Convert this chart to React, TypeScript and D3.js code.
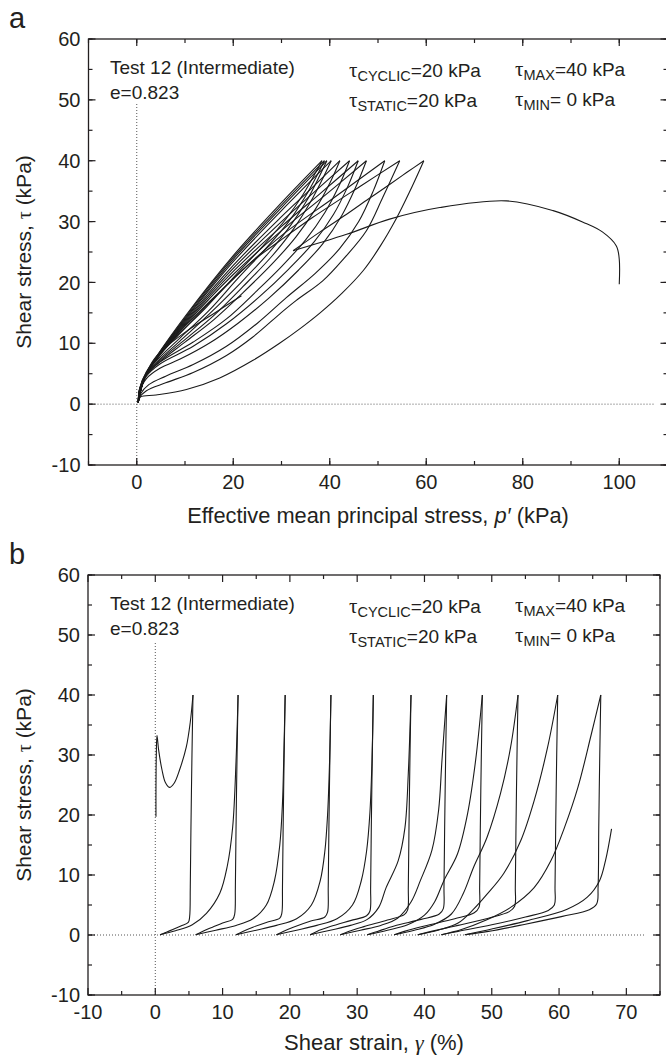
import React from "react";
import * as d3 from "d3";

type Pt = [number, number];

// ---------------- Panel (a): effective mean principal stress p' (kPa) vs shear stress tau (kPa)
const pathAInitial: Pt[] = [[100, 19.7], [100, 23.8], [99.4, 26], [96.5, 28.3], [92.5, 29.9], [86.3, 31.8], [76.6, 33.4], [62.8, 32.3], [52.4, 30.4], [43.5, 27.9], [32.4, 25.2]];

const pathALoading: Pt[][] = [
  [[32.4, 25.2], [38, 28.3], [43.5, 31.2], [48, 33.7], [52.4, 36.1], [56, 38.1], [59.5, 40]],
  [[0.3, 0.3], [1, 2.8], [2, 5], [4.5, 7.8], [10, 12.5], [18, 19], [24, 23.5], [29.6, 26.8], [36.5, 30.7], [46.9, 36.1], [54.5, 40]],
  [[0.3, 0.3], [1, 2.8], [2, 5], [4.5, 7.8], [10, 12.8], [20, 20.6], [30, 27.7], [41, 34], [51.4, 40]],
  [[0.3, 0.3], [1, 2.8], [2, 5], [4.5, 7.9], [10, 13], [20, 21.3], [30, 28.5], [39, 34.3], [47.6, 40]],
  [[0.3, 0.3], [1, 2.8], [2, 5], [4.5, 7.9], [10, 13.2], [20, 21.8], [30, 29.2], [38, 34.6], [45.9, 40]],
  [[0.3, 0.3], [1, 2.8], [2, 5], [4.5, 8], [10, 13.4], [20, 22.3], [30, 30], [37, 35], [44.1, 40]],
  [[0.3, 0.3], [1, 2.8], [2, 5], [4.5, 8], [10, 13.6], [20, 22.8], [30, 30.8], [36, 35.3], [42.1, 40]],
  [[0.3, 0.3], [1, 2.8], [2, 5], [4.5, 8.1], [10, 13.8], [20, 23.4], [30, 31.8], [40.3, 40]],
  [[0.3, 0.3], [1, 2.85], [2, 5.05], [4.5, 8.2], [10, 14], [20, 23.8], [30, 32.3], [39.4, 40]],
  [[0.3, 0.3], [1, 2.85], [2, 5.05], [4.5, 8.2], [10, 14.2], [20, 24.1], [30, 32.7], [38.9, 40]],
  [[0.3, 0.3], [1, 2.9], [2, 5.1], [4.5, 8.3], [10, 14.4], [20, 24.4], [30, 33.1], [38.4, 40]],
  [[0.3, 0.3], [1, 2.9], [2, 5.1], [3.5, 7.3], [5.5, 9], [10, 11.8], [16, 14.9], [21.7, 17.8]],
];

const pathAUnloading: Pt[][] = [
  [[59.5, 40], [56.5, 34.8], [53.8, 30.5], [50.5, 26], [47, 22], [42.5, 18.2], [38, 15], [33.5, 12.2], [29.6, 10], [24.1, 7.2], [17.2, 4.3], [10.3, 2.4], [4, 1.5], [0.8, 1.2], [0.3, 0.3]],
  [[54.5, 40], [51, 34], [47.6, 28.5], [43, 24], [38.6, 20.3], [33, 17], [29.6, 14.8], [24, 11], [18.6, 8], [11.7, 5.2], [6, 3.5], [2, 2.2], [0.5, 1], [0.3, 0.3]],
  [[51.4, 40], [49, 35], [46, 30], [42, 25.5], [37, 21.5], [31, 17.5], [25, 13.3], [18.6, 9.5], [11.7, 6.5], [6, 4.6], [2.5, 3.2], [0.8, 1.7], [0.3, 0.3]],
  [[47.6, 40], [45.3, 35.5], [42.5, 31], [38.5, 26.3], [33.5, 22], [27.5, 17.5], [21, 13.3], [15, 10], [9, 7.4], [4.8, 5.9], [2, 4.2], [0.6, 2], [0.3, 0.3]],
  [[45.9, 40], [43.7, 35.7], [40.8, 31.2], [36.8, 26.7], [31.5, 22.2], [25.5, 17.7], [18.6, 13.2], [11.7, 9.5], [4.8, 6.6], [2, 4.6], [0.6, 2.1], [0.3, 0.3]],
  [[44.1, 40], [42, 36], [39, 31.5], [35, 27], [30, 22.6], [25, 18.7], [18.6, 14], [11.7, 10.2], [4.8, 6.9], [2, 4.8], [0.6, 2.2], [0.3, 0.3]],
  [[42.1, 40], [40, 36.3], [37, 32], [33, 27.5], [28, 23], [22, 18.3], [16, 13.9], [10, 10.2], [4.8, 7], [2, 4.9], [0.6, 2.3], [0.3, 0.3]],
  [[40.3, 40], [38.5, 37], [36, 33.2], [32.5, 28.8], [28, 24.3], [22, 19.3], [16, 14.6], [10, 10.6], [4.8, 7.2], [2, 5], [0.6, 2.4], [0.3, 0.3]],
  [[39.4, 40], [37.7, 37.2], [35.5, 33.8], [32, 29.5], [27.5, 25], [21.5, 19.9], [15, 14.8], [9, 10.4], [4.5, 7.2], [2, 5.1], [0.6, 2.5], [0.3, 0.3]],
  [[38.9, 40], [37.3, 37.5], [35, 34.2], [31.5, 30], [27, 25.8], [21, 20.7], [15, 15.4], [9, 10.9], [4.5, 7.5], [2, 5.2], [0.6, 2.5], [0.3, 0.3]],
  [[38.4, 40], [36.9, 37.8], [34.5, 34.5], [31, 30.5], [26.5, 26.3], [20.5, 21.2], [14.5, 16], [8.5, 11.3], [4.3, 7.8], [2, 5.3], [0.6, 2.6], [0.3, 0.3]],
];

// ---------------- Panel (b): shear strain gamma (%) vs shear stress tau (kPa)
const curveBInitial: Pt[] = [[0.1, 19.7], [0.1, 24], [0.15, 30], [0.25, 33.3], [0.5, 30.8], [1, 27.5], [1.5, 25.4], [2.1, 24.6], [2.8, 25.3], [3.6, 27.5], [4.6, 31.3], [5.2, 35.5], [5.6, 40]];

const curveBReloading: Pt[][] = [
  [[0.7, 0.05], [3, 0.7], [5.5, 1.7], [7.6, 3.6], [9.6, 7], [10.7, 11.5], [11.5, 18], [12, 29], [12.3, 40]],
  [[6, 0.05], [9, 0.8], [12, 1.6], [14.5, 2.7], [16.5, 5], [17.7, 9], [18.5, 15], [18.9, 22], [19.1, 30], [19.3, 40]],
  [[12, 0.05], [15, 0.8], [18, 1.6], [21, 2.7], [23.2, 5], [24.5, 9], [25.2, 14], [25.6, 20], [25.9, 29], [26.1, 40]],
  [[18, 0.05], [21, 0.8], [24, 1.6], [27, 2.7], [29.3, 5], [30.6, 9], [31.4, 14], [31.9, 20.5], [32.2, 29], [32.4, 40]],
  [[23, 0.05], [26, 0.8], [29, 1.6], [31.5, 2.6], [33.2, 4.6], [34.3, 7.9], [36.1, 12.4], [37.1, 17.9], [37.6, 27], [38, 40]],
  [[27.5, 0.05], [30.5, 0.8], [33.5, 1.6], [36, 2.8], [38, 5.5], [39.4, 9.1], [41.1, 14.1], [42.1, 20.8], [42.6, 29.1], [43.3, 40]],
  [[31.5, 0.05], [34.5, 0.8], [37.5, 1.7], [40, 3.3], [41.5, 5.5], [42.9, 9.1], [44.9, 13.5], [46.4, 20.2], [47.6, 29.1], [48.6, 40]],
  [[35.5, 0.05], [38.5, 0.8], [41.5, 1.8], [44, 3.5], [45.8, 7], [47.3, 11.3], [49.3, 16.3], [51.3, 23.6], [52.8, 31.3], [53.9, 40]],
  [[39, 0.05], [42, 0.8], [45, 2], [47.3, 4.3], [49.3, 6.8], [51.8, 10.3], [54.3, 15.7], [56.3, 22.4], [58.3, 31.3], [59.8, 40]],
  [[42.5, 0.05], [45.5, 0.9], [49, 2.4], [52.8, 4.6], [56.3, 7.9], [58.8, 12.4], [60.8, 17.9], [62.8, 24.6], [64.8, 33.5], [66.2, 40]],
  [[46, 0.05], [50, 1], [55.3, 2.4], [61.2, 4.3], [64.2, 6.3], [66, 9], [66.9, 12.4], [67.8, 17.7]],
];

const curveBUnloading: Pt[][] = [
  [[5.6, 40], [5.45, 30], [5.3, 18], [5.2, 8], [5.1, 3], [4.9, 2.1], [3.8, 1.5], [2.6, 0.9], [1.5, 0.4], [0.7, 0.05]],
  [[12.3, 40], [12.15, 30], [12, 18], [11.9, 8], [11.8, 3.5], [11.5, 2.6], [10, 2], [8.5, 1.3], [7, 0.6], [6, 0.05]],
  [[19.3, 40], [19.15, 30], [19, 18], [18.9, 8], [18.8, 3.6], [18.5, 2.8], [16.5, 2.1], [14.5, 1.3], [13, 0.6], [12, 0.05]],
  [[26.1, 40], [25.95, 30], [25.8, 18], [25.7, 8], [25.6, 3.8], [25.2, 3], [23, 2.3], [20.5, 1.3], [19, 0.6], [18, 0.05]],
  [[32.4, 40], [32.25, 30], [32.1, 18], [32, 8], [31.9, 4], [31.4, 3.2], [29, 2.4], [26, 1.4], [24, 0.6], [23, 0.05]],
  [[38, 40], [37.85, 30], [37.7, 18], [37.6, 8], [37.5, 4.2], [37, 3.4], [34.5, 2.5], [31, 1.4], [28.7, 0.6], [27.5, 0.05]],
  [[43.3, 40], [43.15, 30], [43, 18], [42.9, 8], [42.8, 4.4], [42.2, 3.5], [39.5, 2.6], [35.5, 1.5], [33, 0.6], [31.5, 0.05]],
  [[48.6, 40], [48.45, 30], [48.3, 18], [48.2, 8], [48.1, 4.6], [47.4, 3.7], [44.5, 2.7], [40, 1.5], [37, 0.6], [35.5, 0.05]],
  [[53.9, 40], [53.75, 30], [53.6, 18], [53.5, 8], [53.4, 4.8], [52.6, 3.9], [49.5, 2.8], [45, 1.6], [41, 0.6], [39, 0.05]],
  [[59.8, 40], [59.65, 30], [59.5, 18], [59.4, 8], [59.3, 5], [58.4, 4.1], [55, 3], [50, 1.7], [45, 0.6], [42.5, 0.05]],
  [[66.2, 40], [66.05, 30], [65.9, 18], [65.8, 8], [65.6, 5.2], [64.5, 4.2], [60.5, 3.1], [55, 1.8], [49.5, 0.6], [46, 0.05]],
];

// ---------------- ticks
const xTickLabelsA = [0, 20, 40, 60, 80, 100];
const xTickLabelsB = [-10, 0, 10, 20, 30, 40, 50, 60, 70];
const yTickLabels = [-10, 0, 10, 20, 30, 40, 50, 60];

const FONT = "'Liberation Sans', Arial, Helvetica, sans-serif";
const SERIF = "'Liberation Serif', 'Times New Roman', serif";
const INK = "#231f20";

type Scale = d3.ScaleLinear<number, number>;

function Frame(props: {
  x: Scale; y: Scale; xMajor: number[]; xMinor: number[]; yMajor: number[]; yMinor: number[];
  xLabels: number[]; yLabels: number[];
}) {
  const { x, y, xMajor, xMinor, yMajor, yMinor, xLabels, yLabels } = props;
  const [x0, x1] = x.range();
  const [y0, y1] = y.range(); // y0 bottom, y1 top
  const MAJ = 7, MIN = 4;
  const ticks: any[] = [];
  const addX = (v: number, len: number, k: string) => {
    const px = x(v);
    ticks.push(<line key={"xb" + k} x1={px} x2={px} y1={y0} y2={y0 - len} />);
    ticks.push(<line key={"xt" + k} x1={px} x2={px} y1={y1} y2={y1 + len} />);
  };
  const addY = (v: number, len: number, k: string) => {
    const py = y(v);
    ticks.push(<line key={"yl" + k} x1={x0} x2={x0 + len} y1={py} y2={py} />);
    ticks.push(<line key={"yr" + k} x1={x1} x2={x1 - len} y1={py} y2={py} />);
  };
  xMinor.forEach((v, i) => addX(v, MIN, "n" + i));
  xMajor.forEach((v, i) => addX(v, MAJ, "m" + i));
  yMinor.forEach((v, i) => addY(v, MIN, "n" + i));
  yMajor.forEach((v, i) => addY(v, MAJ, "m" + i));
  return (
    <g>
      <rect x={x0} y={y1} width={x1 - x0} height={y0 - y1} fill="none" stroke={INK} strokeWidth={1.3} />
      <g stroke={INK} strokeWidth={1.2}>{ticks}</g>
      <g fontFamily={FONT} fontSize={20} fill={INK}>
        {xLabels.map((v) => (
          <text key={"xl" + v} x={x(v)} y={y0 + 24} textAnchor="middle">{String(v)}</text>
        ))}
        {yLabels.map((v) => (
          <text key={"yl" + v} x={x0 - 8} y={y(v)} dy="0.36em" textAnchor="end">{String(v)}</text>
        ))}
      </g>
    </g>
  );
}

function Annotations({ top }: { top: number }) {
  const sub = 14.5;
  const Tau = () => <tspan fontFamily={SERIF} fontSize={21}>τ</tspan>;
  return (
    <g fontFamily={FONT} fontSize={19} fill={INK}>
      <text x={110} y={top + 35}>Test 12 (Intermediate)</text>
      <text x={110} y={top + 60}>e=0.823</text>
      <text x={349} y={top + 38}>
        <Tau /><tspan fontSize={sub} dy={4}>CYCLIC</tspan><tspan dy={-4}>=20 kPa</tspan>
      </text>
      <text x={349} y={top + 68}>
        <Tau /><tspan fontSize={sub} dy={4}>STATIC</tspan><tspan dy={-4}>=20 kPa</tspan>
      </text>
      <text x={515} y={top + 37}>
        <Tau /><tspan fontSize={sub} dy={4}>MAX</tspan><tspan dy={-4}>=40 kPa</tspan>
      </text>
      <text x={515} y={top + 67}>
        <Tau /><tspan fontSize={sub} dy={4}>MIN</tspan><tspan dy={-4}>= 0 kPa</tspan>
      </text>
    </g>
  );
}

export default function App() {
  const W = 666, H = 1059;

  const xA = d3.scaleLinear().domain([-10, 110]).range([88.5, 667.5]);
  const yA = d3.scaleLinear().domain([-10, 60]).range([465, 39]);
  const xB = d3.scaleLinear().domain([-10, 75]).range([88, 660]);
  const yB = d3.scaleLinear().domain([-10, 60]).range([995, 575]);

  const lineA = d3.line<Pt>().x((d) => xA(d[0])).y((d) => yA(d[1])).curve(d3.curveCatmullRom.alpha(0.5));
  const lineB = d3.line<Pt>().x((d) => xB(d[0])).y((d) => yB(d[1])).curve(d3.curveCatmullRom.alpha(0.5));

  const curvesA = [pathAInitial, ...pathALoading, ...pathAUnloading];
  const curvesB = [curveBInitial, ...curveBReloading, ...curveBUnloading];

  const dot = { stroke: "#555", strokeWidth: 1, strokeDasharray: "1,2", fill: "none" };

  return (
    <svg width={W} height={H} viewBox={`0 0 ${W} ${H}`} style={{ position: "absolute", left: 0, top: 0, background: "#fff" }}>
      <rect x={0} y={0} width={W} height={H} fill="#fff" />

      {/* Panel a */}
      <text x={9} y={28} fontFamily={FONT} fontSize={29} fill={INK}>a</text>
      <line x1={xA(0)} x2={xA(0)} y1={yA(-10)} y2={yA(49.5)} {...dot} />
      <line x1={xA(-10)} x2={xA(107.5)} y1={yA(0)} y2={yA(0)} {...dot} />
      <g fill="none" stroke="#1a1a1a" strokeWidth={1.1}>
        {curvesA.map((c, i) => <path key={"a" + i} d={lineA(c) || ""} />)}
      </g>
      <Frame x={xA} y={yA}
        xMajor={d3.range(-10, 111, 20).map((v) => v + 10)} xMinor={d3.range(-10, 111, 10)}
        yMajor={d3.range(-10, 61, 10)} yMinor={d3.range(-10, 61, 5)}
        xLabels={xTickLabelsA} yLabels={yTickLabels} />
      <Annotations top={39} />
      <text transform={`translate(31,${(39 + 465) / 2}) rotate(-90)`} textAnchor="middle" fontFamily={FONT} fontSize={21} fill={INK}>
        Shear stress, <tspan fontFamily={SERIF} fontSize={20}>τ</tspan> (kPa)
      </text>
      <text x={(88.5 + 667.5) / 2} y={523} textAnchor="middle" fontFamily={FONT} fontSize={21.8} fill={INK}>
        Effective mean principal stress, <tspan fontStyle="italic">p′</tspan> (kPa)
      </text>

      {/* Panel b */}
      <text x={9} y={564} fontFamily={FONT} fontSize={29} fill={INK}>b</text>
      <line x1={xB(0)} x2={xB(0)} y1={yB(-10)} y2={yB(48.7)} {...dot} />
      <line x1={xB(-10)} x2={xB(72.8)} y1={yB(0)} y2={yB(0)} {...dot} />
      <g fill="none" stroke="#1a1a1a" strokeWidth={1.1}>
        {curvesB.map((c, i) => <path key={"b" + i} d={lineB(c) || ""} />)}
      </g>
      <Frame x={xB} y={yB}
        xMajor={d3.range(-10, 76, 10)} xMinor={d3.range(-5, 76, 10)}
        yMajor={d3.range(-10, 61, 10)} yMinor={d3.range(-10, 61, 5)}
        xLabels={xTickLabelsB} yLabels={yTickLabels} />
      <Annotations top={575} />
      <text transform={`translate(31,${(575 + 995) / 2}) rotate(-90)`} textAnchor="middle" fontFamily={FONT} fontSize={21} fill={INK}>
        Shear stress, <tspan fontFamily={SERIF} fontSize={20}>τ</tspan> (kPa)
      </text>
      <text x={(88 + 660) / 2} y={1050} textAnchor="middle" fontFamily={FONT} fontSize={22} fill={INK}>
        Shear strain, <tspan fontFamily={SERIF} fontStyle="italic">γ</tspan> (%)
      </text>
    </svg>
  );
}
